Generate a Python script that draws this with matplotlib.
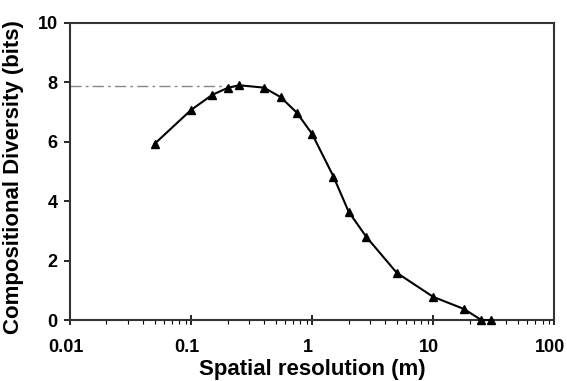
import numpy as np
import matplotlib.pyplot as plt
import matplotlib.transforms as mtransforms
from matplotlib.ticker import LogLocator, NullFormatter, FixedLocator

plt.rcParams["font.family"] = ["Liberation Sans", "DejaVu Sans"]
plt.rcParams["font.weight"] = "bold"

# spatial resolution (m) and compositional diversity (bits)
resolution = [0.05, 0.1, 0.15, 0.2, 0.25, 0.4, 0.55, 0.75, 1.0, 1.5, 2.0, 2.8, 5.0, 10.0, 18.0, 25.0, 30.0]
diversity = [5.93, 7.07, 7.58, 7.81, 7.90, 7.82, 7.50, 6.97, 6.26, 4.83, 3.65, 2.80, 1.59, 0.78, 0.37, 0.0, 0.0]
peak_value = 7.87
x_ticks = [0.01, 0.1, 1, 10, 100]
x_labels = ["0.01", "0.1", "1", "10", "100"]
y_ticks = [0, 2, 4, 6, 8, 10]


def main():
    fig = plt.figure(figsize=(5.67, 3.81), dpi=100)
    ax = fig.add_axes([0.1235, 0.160, 0.854, 0.780])

    # dash-dot reference at the maximum
    ax.plot([0.01, 0.25], [peak_value, peak_value], color="#888888",
            lw=1.0, dashes=(8, 3, 2, 3))
    ax.plot(resolution, diversity, color="black", lw=1.5,
            marker="^", markersize=6, clip_on=False, zorder=3)

    ax.set_xscale("log")
    ax.set_xlim(0.01, 100)
    ax.set_ylim(0, 10)
    ax.xaxis.set_major_locator(FixedLocator(x_ticks))
    ax.set_xticklabels(x_labels)
    ax.xaxis.set_minor_locator(LogLocator(base=10, subs=np.arange(2, 10)))
    ax.xaxis.set_minor_formatter(NullFormatter())
    ax.set_yticks(y_ticks)

    ax.tick_params(axis="x", which="major", direction="inout", length=7,
                   width=1.2, labelsize=13, pad=10)
    ax.tick_params(axis="x", which="minor", direction="out", length=3,
                   width=0.8)
    ax.tick_params(axis="y", direction="out", length=4, width=1.2,
                   labelsize=13, pad=5)

    # x labels sit a little left of their ticks in the original
    shift = mtransforms.ScaledTranslation(-4 / 100, 0, fig.dpi_scale_trans)
    for lab in ax.get_xticklabels():
        lab.set_fontweight("bold")
        lab.set_transform(lab.get_transform() + shift)
    for lab in ax.get_yticklabels():
        lab.set_fontweight("bold")

    for side in ["left", "bottom", "top", "right"]:
        ax.spines[side].set_linewidth(1.5)
        ax.spines[side].set_color("#333333")

    ax.set_xlabel("Spatial resolution (m)", fontsize=16, fontweight="bold",
                  labelpad=2)
    ax.set_ylabel("Compositional Diversity (bits)", fontsize=16,
                  fontweight="bold", labelpad=10)
    ax.yaxis.set_label_coords(-0.095, 0.48)

    fig.savefig("out.png", dpi=100)


if __name__ == "__main__":
    main()
